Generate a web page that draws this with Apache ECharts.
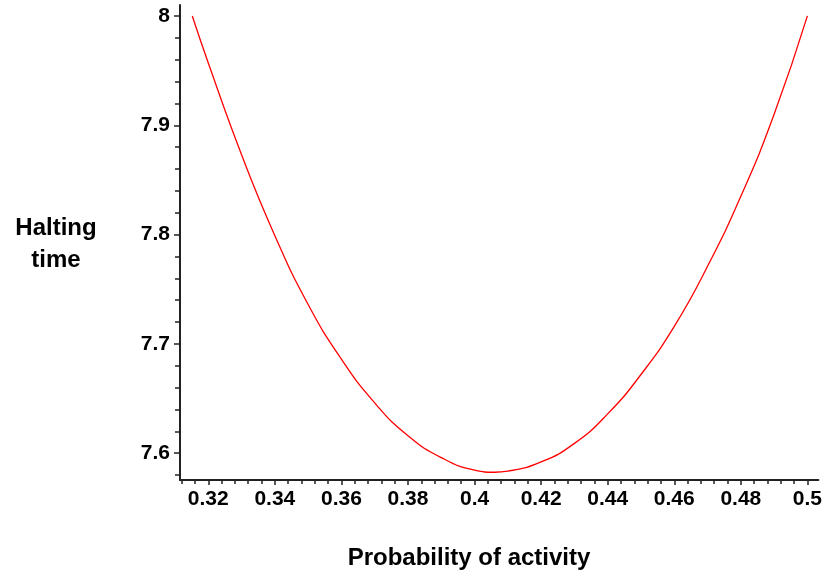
<!DOCTYPE html>
<html>
<head>
<meta charset="utf-8">
<script src="https://cdn.jsdelivr.net/npm/echarts@6/dist/echarts.min.js"></script>
<style>html,body{margin:0;padding:0;background:#fff}#c{width:825px;height:573px}</style>
</head>
<body>
<div id="c"></div>
<script>
// Data
const probability = [0.3152, 0.32, 0.33, 0.34, 0.35, 0.36, 0.37, 0.38, 0.39, 0.40, 0.406, 0.41, 0.42, 0.43, 0.44, 0.45, 0.46, 0.47, 0.48, 0.49, 0.50];
const haltingTime = [8.000, 7.957, 7.873, 7.799, 7.736, 7.686, 7.646, 7.616, 7.596, 7.5845, 7.5826, 7.5836, 7.592, 7.609, 7.636, 7.672, 7.716, 7.771, 7.835, 7.910, 8.000];
const xTicks = [0.32, 0.34, 0.36, 0.38, 0.4, 0.42, 0.44, 0.46, 0.48, 0.5];
const xMinorTicks = [0.312, 0.316, 0.32, 0.324, 0.328, 0.332, 0.336, 0.34, 0.344, 0.348, 0.352, 0.356, 0.36, 0.364, 0.368, 0.372, 0.376, 0.38, 0.384, 0.388, 0.392, 0.396, 0.4, 0.404, 0.408, 0.412, 0.416, 0.42, 0.424, 0.428, 0.432, 0.436, 0.44, 0.444, 0.448, 0.452, 0.456, 0.46, 0.464, 0.468, 0.472, 0.476, 0.48, 0.484, 0.488, 0.492, 0.496, 0.5];
const yTicks = [7.6, 7.7, 7.8, 7.9, 8];
const yMinorTicks = [7.58, 7.6, 7.62, 7.64, 7.66, 7.68, 7.7, 7.72, 7.74, 7.76, 7.78, 7.8, 7.82, 7.84, 7.86, 7.88, 7.9, 7.92, 7.94, 7.96, 7.98, 8];
const xTitle = 'Probability of activity';
const yTitle = 'Halting\ntime';

const X_MIN = 0.3115, X_MAX = 0.5033, Y_MIN = 7.5755, Y_MAX = 8.01;
const labelFont = {fontFamily: 'Liberation Sans', fontWeight: 'bold', fontSize: 21, color: '#000'};
const axisLineStyle = {color: '#222', width: 2};

const chart = echarts.init(document.getElementById('c'), null, {renderer: 'canvas'});
chart.setOption({
  animation: false,
  backgroundColor: '#fff',
  grid: {left: 180, right: 5, top: 5, bottom: 93, containLabel: false},
  xAxis: [{
    type: 'value', min: X_MIN, max: X_MAX,
    axisLine: {show: true, lineStyle: axisLineStyle},
    axisTick: {show: true, customValues: xTicks, length: 5, lineStyle: {color: '#222', width: 1.5}},
    axisLabel: Object.assign({customValues: xTicks, margin: 9, formatter: v => String(+v.toFixed(2))}, labelFont),
    splitLine: {show: false}
  }, {
    type: 'value', min: X_MIN, max: X_MAX, position: 'bottom',
    axisLine: {show: false},
    axisTick: {show: true, customValues: xMinorTicks, length: 4, lineStyle: {color: '#222', width: 1.5}},
    axisLabel: {show: false},
    splitLine: {show: false}
  }],
  yAxis: [{
    type: 'value', min: Y_MIN, max: Y_MAX,
    axisLine: {show: true, lineStyle: axisLineStyle},
    axisTick: {show: true, customValues: yTicks, length: 6, lineStyle: {color: '#222', width: 1.5}},
    axisLabel: Object.assign({customValues: yTicks, margin: 10, formatter: v => String(+v.toFixed(1))}, labelFont),
    splitLine: {show: false}
  }, {
    type: 'value', min: Y_MIN, max: Y_MAX, position: 'left',
    axisLine: {show: false},
    axisTick: {show: true, customValues: yMinorTicks, length: 5, lineStyle: {color: '#222', width: 1.5}},
    axisLabel: {show: false},
    splitLine: {show: false}
  }],
  graphic: [{
    type: 'text', x: 56, y: 244,
    style: {text: yTitle, align: 'center', verticalAlign: 'middle', fill: '#000',
      font: 'bold 24px "Liberation Sans"', lineHeight: 32}
  }, {
    type: 'text', x: 469, y: 558,
    style: {text: xTitle, align: 'center', verticalAlign: 'middle', fill: '#000',
      font: 'bold 24px "Liberation Sans"'}
  }],
  series: [{
    type: 'line', xAxisIndex: 0, yAxisIndex: 0,
    data: probability.map((p, i) => [p, haltingTime[i]]),
    smooth: true, showSymbol: false,
    lineStyle: {color: '#ff0000', width: 1.3}
  }]
});
</script>
</body>
</html>
